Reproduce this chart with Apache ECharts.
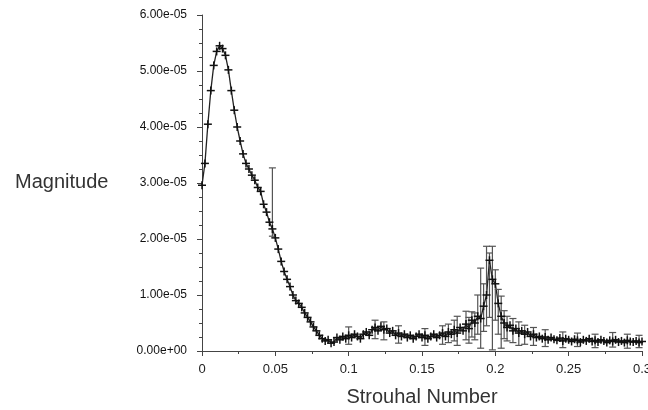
<!DOCTYPE html>
<html>
<head>
<meta charset="utf-8">
<script src="https://cdn.jsdelivr.net/npm/echarts@6/dist/echarts.min.js"></script>
<style>html,body{margin:0;padding:0;background:#fff;}#c{width:648px;height:410px;}</style>
</head>
<body>
<div id="c"></div>
<script>
// Values in units of 1e-5
const UNIT = 1e-5;
const strouhal = [
0.000,0.002,0.004,0.006,0.008,0.010,0.012,0.014,0.016,0.018,
0.020,0.022,0.024,0.026,0.028,0.030,0.032,0.034,0.036,0.038,
0.040,0.042,0.044,0.046,0.048,0.050,0.052,0.054,0.056,0.058,
0.060,0.062,0.064,0.066,0.068,0.070,0.072,0.074,0.076,0.078,
0.080,0.082,0.084,0.086,0.088,0.090,0.092,0.094,0.096,0.098,
0.100,0.102,0.104,0.106,0.108,0.110,0.112,0.114,0.116,0.118,
0.120,0.122,0.124,0.126,0.128,0.130,0.132,0.134,0.136,0.138,
0.140,0.142,0.144,0.146,0.148,0.150,0.152,0.154,0.156,0.158,
0.160,0.162,0.164,0.166,0.168,0.170,0.172,0.174,0.176,0.178,
0.180,0.182,0.184,0.186,0.188,0.190,0.192,0.194,0.196,0.198,
0.200,0.202,0.204,0.206,0.208,0.210,0.212,0.214,0.216,0.218,
0.220,0.222,0.224,0.226,0.228,0.230,0.232,0.234,0.236,0.238,
0.240,0.242,0.244,0.246,0.248,0.250,0.252,0.254,0.256,0.258,
0.260,0.262,0.264,0.266,0.268,0.270,0.272,0.274,0.276,0.278,
0.280,0.282,0.284,0.286,0.288,0.290,0.292,0.294,0.296,0.298,
0.300];
const magnitude = [
2.96,3.35,4.05,4.65,5.10,5.35,5.45,5.40,5.28,5.02,
4.65,4.30,4.00,3.75,3.52,3.35,3.25,3.14,3.05,2.92,
2.85,2.62,2.48,2.30,2.18,2.02,1.82,1.60,1.42,1.28,
1.15,1.00,0.90,0.85,0.78,0.68,0.60,0.52,0.43,0.36,
0.28,0.22,0.18,0.20,0.14,0.16,0.24,0.20,0.26,0.22,
0.28,0.24,0.30,0.26,0.22,0.30,0.34,0.28,0.38,0.42,
0.36,0.44,0.38,0.40,0.32,0.36,0.28,0.32,0.26,0.30,
0.24,0.28,0.22,0.26,0.30,0.24,0.28,0.22,0.26,0.30,
0.24,0.28,0.32,0.26,0.34,0.30,0.38,0.32,0.42,0.36,
0.48,0.40,0.55,0.50,0.62,0.58,0.80,1.00,1.62,1.28,
1.20,0.85,0.62,0.50,0.42,0.46,0.36,0.40,0.32,0.36,
0.30,0.34,0.26,0.30,0.24,0.26,0.22,0.25,0.20,0.24,
0.21,0.19,0.23,0.18,0.22,0.20,0.17,0.21,0.19,0.16,
0.20,0.18,0.22,0.17,0.19,0.16,0.20,0.18,0.15,0.19,
0.17,0.20,0.16,0.18,0.15,0.19,0.17,0.16,0.18,0.15,
0.17];
// Error bars (only where visible)
const errSt = [0.048,0.100,0.118,0.124,0.134,0.152,0.164,0.168,0.172,0.174,0.180,0.182,0.184,0.186,0.188,0.190,0.192,0.194,0.196,0.198,0.200,0.202,0.204,0.206,0.208,0.212,0.216,0.220,0.226,0.234,0.246,0.256,0.268,0.280,0.290,0.298];
const errLo = [2.05,0.12,0.22,0.20,0.14,0.10,0.12,0.15,0.18,0.10,0.20,0.14,0.25,0.20,0.30,0.05,0.35,0.45,0.60,0.02,0.55,0.30,0.05,0.22,0.18,0.15,0.10,0.12,0.10,0.08,0.06,0.08,0.06,0.07,0.05,0.06];
const errHi = [3.27,0.43,0.55,0.52,0.45,0.40,0.45,0.48,0.55,0.62,0.71,0.60,0.70,0.68,1.00,1.48,1.20,1.87,1.75,1.87,1.45,1.10,0.98,0.72,0.62,0.58,0.52,0.46,0.42,0.38,0.34,0.32,0.30,0.33,0.30,0.28];
const xTicks = [0,0.05,0.1,0.15,0.2,0.25,0.3];
const yTickLabels = ['0.00e+00','1.00e-05','2.00e-05','3.00e-05','4.00e-05','5.00e-05','6.00e-05'];

const pts = strouhal.map((s,i)=>[s, magnitude[i]*UNIT]);
const errs = errSt.map((s,i)=>[s, errLo[i]*UNIT, errHi[i]*UNIT]);

function fmtY(v){
  const idx = Math.round(v/UNIT);
  return yTickLabels[idx] !== undefined ? yTickLabels[idx] : '';
}

const chart = echarts.init(document.getElementById('c'), null, {renderer:'canvas'});
chart.setOption({
  animation:false,
  backgroundColor:'#ffffff',
  grid:{left:202,right:6,top:15,bottom:59,containLabel:false,outerBoundsMode:'none'},
  xAxis:{
    type:'value',min:0,max:0.3,interval:0.05,
    name:'Strouhal Number',nameLocation:'middle',nameGap:36,
    nameTextStyle:{fontFamily:'Liberation Sans, Arial',fontSize:20,color:'#333'},
    axisLine:{show:true,lineStyle:{color:'#444',width:1}},
    axisTick:{show:true,inside:false,length:5,lineStyle:{color:'#444'}},
    minorTick:{show:true,splitNumber:2,length:3,lineStyle:{color:'#444'}},
    splitLine:{show:false},
    axisLabel:{margin:12,fontFamily:'Liberation Sans, Arial',fontSize:13,color:'#222',
      formatter:function(v){ const k = xTicks.findIndex(t=>Math.abs(t-v)<1e-9); return k>=0? String(xTicks[k]) : ''; }}
  },
  yAxis:{
    type:'value',min:0,max:6*UNIT,interval:UNIT,
    axisLine:{show:true,lineStyle:{color:'#444',width:1}},
    axisTick:{show:true,inside:false,length:5,lineStyle:{color:'#444'}},
    minorTick:{show:true,splitNumber:4,length:3,lineStyle:{color:'#444'}},
    splitLine:{show:false},
    axisLabel:{margin:15,fontFamily:'Liberation Sans, Arial',fontSize:12,color:'#111',formatter:fmtY}
  },
  graphic:[{type:'text',left:15,top:172,style:{text:'Magnitude',font:'20px "Liberation Sans", Arial',fill:'#333'}}],
  series:[
    {type:'line',data:pts,symbol:'none',lineStyle:{color:'#222',width:1.3},z:2},
    {type:'custom',data:errs,encode:{x:0,y:[1,2]},z:3,
      renderItem:function(params,api){
        const x = api.value(0);
        const lo = api.coord([x, api.value(1)]);
        const hi = api.coord([x, api.value(2)]);
        const st = {stroke:'#555',lineWidth:1.2};
        return {type:'group',children:[
          {type:'line',shape:{x1:lo[0],y1:lo[1],x2:hi[0],y2:hi[1]},style:st},
          {type:'line',shape:{x1:hi[0]-3.5,y1:hi[1],x2:hi[0]+3.5,y2:hi[1]},style:st},
          {type:'line',shape:{x1:lo[0]-3.5,y1:lo[1],x2:lo[0]+3.5,y2:lo[1]},style:st}
        ]};
      }},
    {type:'custom',data:pts,encode:{x:0,y:1},z:4,
      renderItem:function(params,api){
        const p = api.coord([api.value(0), api.value(1)]);
        const st = {stroke:'#111',lineWidth:1.5};
        return {type:'group',children:[
          {type:'line',shape:{x1:p[0]-4,y1:p[1],x2:p[0]+4,y2:p[1]},style:st},
          {type:'line',shape:{x1:p[0],y1:p[1]-4,x2:p[0],y2:p[1]+4},style:st}
        ]};
      }}
  ]
});
</script>
</body>
</html>
